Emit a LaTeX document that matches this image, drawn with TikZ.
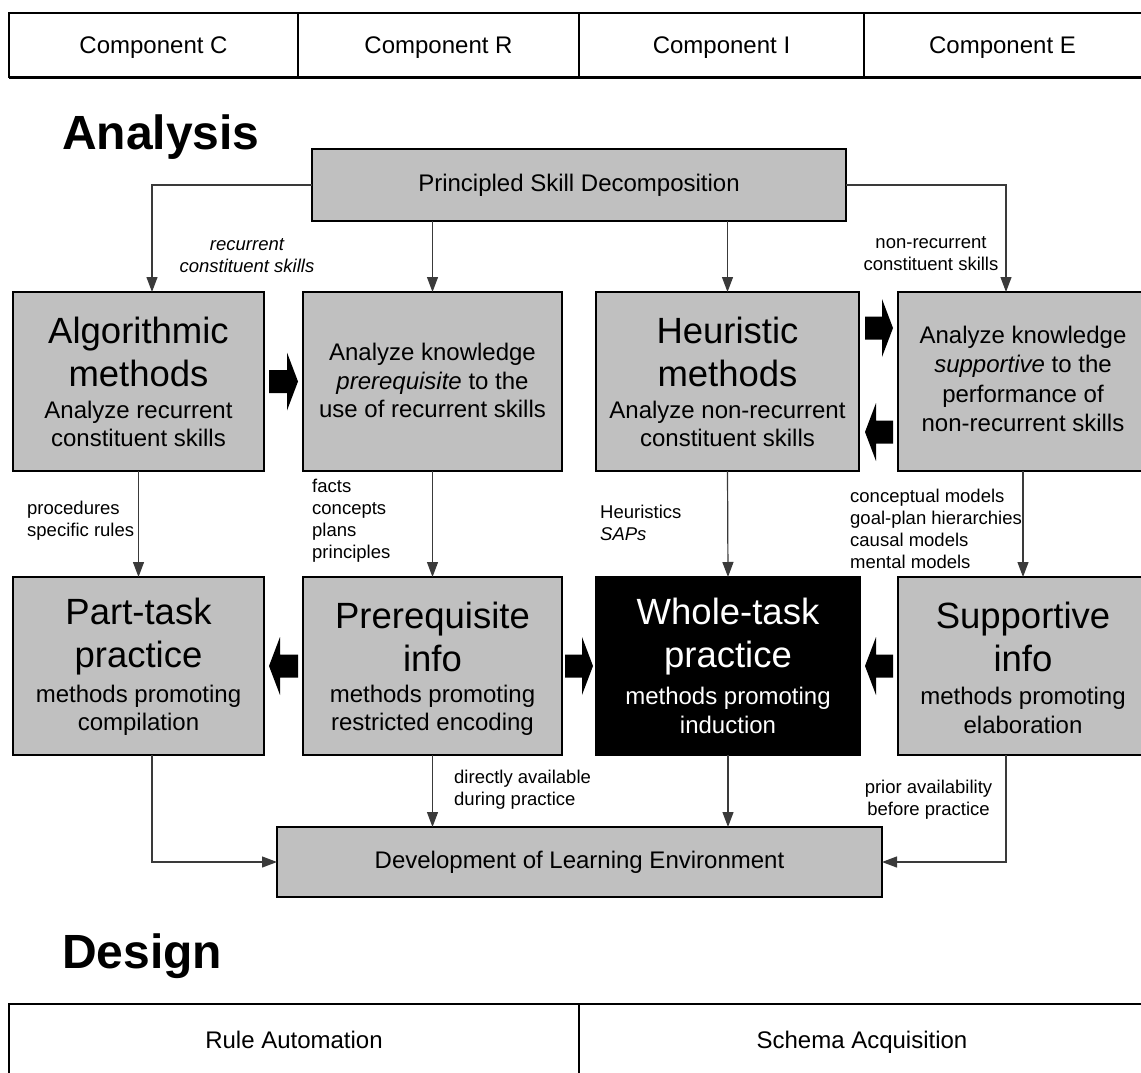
\documentclass[tikz,border=0pt]{standalone}
\usepackage{fontspec}
\setmainfont{Liberation Sans}
\usetikzlibrary{arrows.meta,calc}
\definecolor{boxgray}{HTML}{C0C0C0}
\definecolor{linegray}{HTML}{3A3A3A}

% thick block arrow from tail coordinate #1 to tip coordinate #2 (horizontal)
\newcommand\blockarrow[2]{%
  \fill ($(#1)+(0,-11.5)$) -- ($(#2)!11pt!(#1)+(0,-11.5)$) -- ($(#2)!11pt!(#1)+(0,-29)$)
    -- (#2) -- ($(#2)!11pt!(#1)+(0,29)$) -- ($(#2)!11pt!(#1)+(0,11.5)$)
    -- ($(#1)+(0,11.5)$) -- cycle;}

\tikzset{
  box/.style={draw=black, line width=2.5pt, fill=boxgray, inner sep=0pt, outer sep=0pt},
  darkbox/.style={box, fill=black, text=white},
  conn/.style={draw=linegray, line width=1.2pt, -{Triangle[length=15pt,width=11pt]}},
  title/.style={font=\fontsize{36.5}{43}\selectfont, align=center, inner sep=0pt},
  sub/.style={font=\fontsize{24}{28.5}\selectfont, align=center, inner sep=0pt},
  subtext/.style={font=\fontsize{24}{29}\selectfont},
  bartext/.style={font=\fontsize{24}{29}\selectfont, anchor=base, inner sep=0pt},
  lbl/.style={font=\fontsize{18.5}{22}\selectfont, inner sep=0pt},
  heading/.style={font=\fontsize{48}{48}\bfseries\selectfont, anchor=base west, inner sep=0pt},
  frame/.style={line width=2pt, draw=black},
}

\begin{document}
\begin{tikzpicture}[x=1pt, y=-1pt]
\useasboundingbox (0,0) rectangle (1141,1073);
\clip (0,0) rectangle (1141,1073);

% component bar
\draw[frame] (1150,13) -- (9,13) -- (9,78);
\draw[line width=3pt] (9,78) -- (1150,78);
\draw[line width=1.6pt] (298,13) -- (298,78) (579,13) -- (579,78) (864,13) -- (864,78);
\node[bartext] (compC) at (153.5,54) {Component C};
\node[bartext] (compR) at (438.5,54) {Component R};
\node[bartext] (compI) at (721.5,54) {Component I};
\node[bartext] (compE) at (1002.5,54) {Component E};

\node[heading] (hAnalysis) at (62,149) {Analysis};

% decomposition
\node[box, minimum width=534pt, minimum height=72pt, subtext] (psd) at (579,185) {Principled Skill Decomposition};

% analysis row
\node[box, minimum width=251pt, minimum height=179pt] (algo) at (138.5,381.5) {};
\node[title] (algoT) at ($(algo.center)+(0,-30)$) {Algorithmic\\methods};
\node[sub] (algoS) at ($(algo.center)+(0,42.5)$) {Analyze recurrent\\constituent skills};

\node[box, minimum width=259pt, minimum height=179pt] (prqA) at (432.5,381.5) {};
\node[sub] (prqAT) at ($(prqA.center)+(0,-1)$) {Analyze knowledge\\\textit{prerequisite} to the\\use of recurrent skills};

\node[box, minimum width=263pt, minimum height=179pt] (heur) at (727.5,381.5) {};
\node[title] (heurT) at ($(heur.center)+(0,-30)$) {Heuristic\\methods};
\node[sub] (heurS) at ($(heur.center)+(0,42.5)$) {Analyze non-recurrent\\constituent skills};

\node[box, minimum width=250pt, minimum height=179pt] (supA) at (1023,381.5) {};
\node[sub, font=\fontsize{24}{29.3}\selectfont] (supAT) at ($(supA.center)+(0,-2.5)$) {Analyze knowledge\\\textit{supportive} to the\\performance of\\non-recurrent skills};

% design row
\node[box, minimum width=251pt, minimum height=178pt] (part) at (138.5,666) {};
\node[title] (partT) at ($(part.center)+(0,-29)$) {Part-task\\practice};
\node[sub] (partS) at ($(part.center)+(0,44.5)$) {methods promoting\\compilation};

\node[box, minimum width=259pt, minimum height=178pt] (prqI) at (432.5,666) {};
\node[title] (prqIT) at ($(prqI.center)+(0,-29)$) {Prerequisite\\info};
\node[sub] (prqIS) at ($(prqI.center)+(0,44.5)$) {methods promoting\\restricted encoding};

\node[darkbox, minimum width=264pt, minimum height=178pt] (whole) at (728,666) {};
\node[title, text=white] (wholeT) at ($(whole.center)+(0,-29)$) {Whole-task\\practice};
\node[sub, text=white] (wholeS) at ($(whole.center)+(0,44.5)$) {methods promoting\\induction};

\node[box, minimum width=250pt, minimum height=178pt] (supI) at (1023,666) {};
\node[title] (supIT) at ($(supI.center)+(0,-29)$) {Supportive\\info};
\node[sub] (supIS) at ($(supI.center)+(0,44.5)$) {methods promoting\\elaboration};

% learning environment
\node[box, minimum width=605pt, minimum height=70pt, subtext] (dev) at (579.5,862) {Development of Learning Environment};

% block arrows between boxes
\coordinate (a1t) at ($(algo.east)+(5,0)$);
\coordinate (a1h) at ($(prqA.west)+(-5,0)$);
\coordinate (a2t) at ($(heur.east)+(6,-53.5)$);
\coordinate (a2h) at ($(supA.west)+(-5,-53.5)$);
\coordinate (a3t) at ($(supA.west)+(-5,50.5)$);
\coordinate (a3h) at ($(heur.east)+(6,50.5)$);
\coordinate (a4t) at ($(prqI.west)+(-5,0)$);
\coordinate (a4h) at ($(part.east)+(5,0)$);
\coordinate (a5t) at ($(prqI.east)+(3,0)$);
\coordinate (a5h) at ($(whole.west)+(-3,0)$);
\coordinate (a6t) at ($(supI.west)+(-5,0)$);
\coordinate (a6h) at ($(whole.east)+(5,0)$);
\blockarrow{a1t}{a1h}
\blockarrow{a2t}{a2h}
\blockarrow{a3t}{a3h}
\blockarrow{a4t}{a4h}
\blockarrow{a5t}{a5h}
\blockarrow{a6t}{a6h}

% connectors
\coordinate (inAlgo) at ($(algo.north)+(13.5,0)$);
\coordinate (inSupA) at ($(supA.north)+(-17,0)$);
\draw[conn] (psd.west) -| (inAlgo);
\draw[conn] (psd.south -| prqA.north) -- (prqA.north);
\draw[conn] (psd.south -| heur.north) -- (heur.north);
\draw[conn] (psd.east) -| (inSupA);
\draw[conn] (algo.south) -- (part.north);
\draw[conn] (prqA.south) -- (prqI.north);
\draw[conn] (heur.south) -- (whole.north);
\draw[conn] (supA.south) -- (supI.north);
\coordinate (outPart) at ($(part.south)+(13.5,0)$);
\coordinate (outSupI) at ($(supI.south)+(-17,0)$);
\draw[conn] (outPart) |- (dev.west);
\draw[conn] (prqI.south) -- (prqI.south |- dev.north);
\draw[conn] (whole.south) -- (whole.south |- dev.north);
\draw[conn] (outSupI) |- (dev.east);

% connector labels
\node[lbl, align=center, font=\fontsize{18.5}{22}\selectfont\itshape] (lRec) at (247,256) {recurrent\\constituent skills};
\node[lbl, align=center] (lNon) at (931,254) {non-recurrent\\constituent skills};
\node[lbl, align=left, anchor=west] (lProc) at (27,521) {procedures\\specific rules};
\node[lbl, align=left, anchor=west] (lFacts) at (312,520.5) {facts\\concepts\\plans\\principles};
\node[lbl, align=left, anchor=west] (lHeur) at (600,522.5) {Heuristics\\\textit{SAPs}};
\node[lbl, align=left, anchor=west] (lModels) at (850,529) {conceptual models\\goal-plan hierarchies\\causal models\\mental models};
\node[lbl, align=left, anchor=west] (lDirect) at (454,790) {directly available\\during practice};
\node[lbl, align=center] (lPrior) at (928.5,800) {prior availability\\before practice};

\node[heading] (hDesign) at (62,968) {Design};

% learning processes bar
\draw[frame] (1150,1004) -- (9,1004) -- (9,1080);
\draw[line width=1.6pt] (579,1004) -- (579,1080);
\node[bartext] (ruleA) at (294,1048) {Rule Automation};
\node[bartext] (schemaA) at (862,1048) {Schema Acquisition};
\end{tikzpicture}
\end{document}
